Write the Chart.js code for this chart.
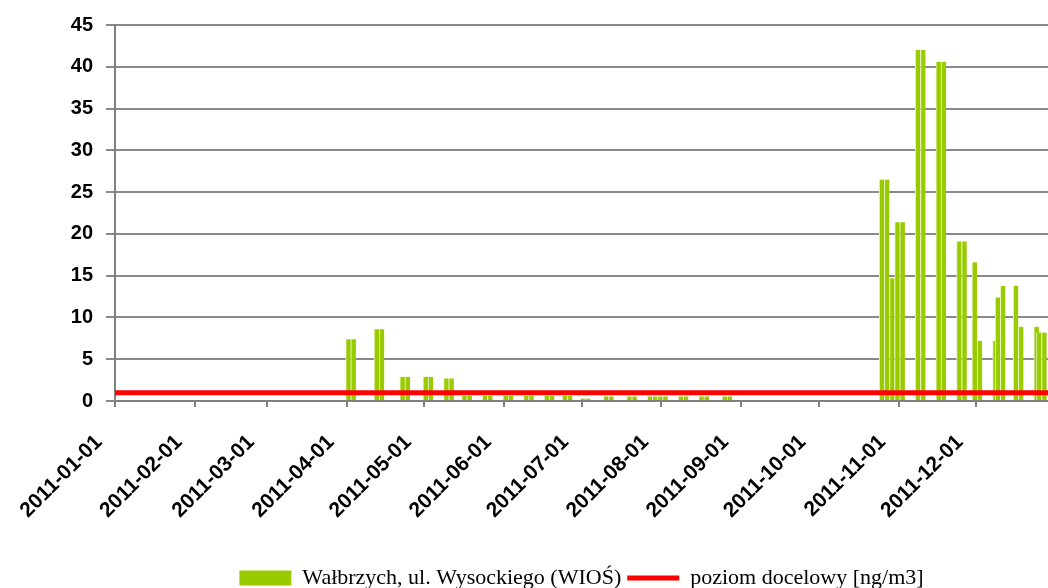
<!DOCTYPE html>
<html>
<head>
<meta charset="utf-8">
<script src="https://cdn.jsdelivr.net/npm/chart.js@4.4.1/dist/chart.umd.min.js"></script>
<style>
html, body { margin: 0; padding: 0; background: #fff; }
#wrap { width: 1048px; height: 588px; }
</style>
</head>
<body>
<div id="wrap"><canvas id="bapChart" width="1048" height="588"></canvas></div>
<script>
// Measurement days and values [ng/m3]
const sampleDates = [
    '2011-04-01', '2011-04-03', '2011-04-12', '2011-04-14', '2011-04-22', '2011-04-24',
    '2011-05-01', '2011-05-03', '2011-05-09', '2011-05-11', '2011-05-16', '2011-05-18',
    '2011-05-24', '2011-05-26', '2011-06-01', '2011-06-03', '2011-06-09', '2011-06-11',
    '2011-06-17', '2011-06-19', '2011-06-24', '2011-06-26', '2011-07-01', '2011-07-03',
    '2011-07-10', '2011-07-12', '2011-07-19', '2011-07-21', '2011-07-27', '2011-07-29',
    '2011-07-31', '2011-08-02', '2011-08-08', '2011-08-10', '2011-08-16', '2011-08-18',
    '2011-08-25', '2011-08-27',
    '2011-10-25', '2011-10-27', '2011-10-29', '2011-10-31', '2011-11-02', '2011-11-08',
    '2011-11-10', '2011-11-16', '2011-11-18', '2011-11-24', '2011-11-26', '2011-11-30',
    '2011-12-02', '2011-12-08', '2011-12-09', '2011-12-11', '2011-12-16', '2011-12-18',
    '2011-12-24', '2011-12-25', '2011-12-27'
];
const sampleValues = [
    7.4, 7.4, 8.6, 8.6, 2.9, 2.9,
    2.9, 2.9, 2.7, 2.7, 0.6, 0.6,
    0.6, 0.6, 0.6, 0.6, 0.6, 0.6,
    0.6, 0.6, 0.6, 0.6, 0.3, 0.3,
    0.55, 0.55, 0.55, 0.55, 0.55, 0.55,
    0.55, 0.55, 0.55, 0.55, 0.55, 0.55,
    0.55, 0.55,
    26.5, 26.5, 14.7, 21.4, 21.4, 42.0,
    42.0, 40.6, 40.6, 19.1, 19.1, 16.6,
    7.2, 7.2, 12.4, 13.8, 13.8, 8.9,
    8.9, 8.2, 8.2
];
const targetLevel = 1;
const monthTicks = [
    '2011-01-01', '2011-02-01', '2011-03-01', '2011-04-01', '2011-05-01', '2011-06-01',
    '2011-07-01', '2011-08-01', '2011-09-01', '2011-10-01', '2011-11-01', '2011-12-01'
];
const yearStart = '2011-01-01';
const lastDay = 362;   // axis ends just before the end of December

function dayOfYear(s) {
    return Math.round((Date.parse(s) - Date.parse(yearStart)) / 86400000);
}

const tickDays = monthTicks.map(dayOfYear);
const barPoints = sampleDates.map((d, i) => ({ x: dayOfYear(d) + 0.5, y: sampleValues[i] }));

const ctx = document.getElementById('bapChart').getContext('2d');
const bapChart = new Chart(ctx, {
    type: 'bar',
    data: {
        datasets: [{
            label: 'Wałbrzych, ul. Wysockiego (WIOŚ)',
            data: barPoints,
            backgroundColor: '#99cc00',
            borderColor: '#e2f0b4',
            borderWidth: { top: 0, right: 0, bottom: 0, left: 1 },
            borderSkipped: false,
            barThickness: 5,
            order: 1
        }, {
            type: 'line',
            label: 'poziom docelowy [ng/m3]',
            data: [{ x: 0, y: targetLevel }, { x: lastDay, y: targetLevel }],
            borderColor: '#ff0000',
            backgroundColor: '#ff0000',
            borderWidth: 5,
            pointRadius: 0,
            order: 0
        }]
    },
    options: {
        responsive: false,
        animation: false,
        devicePixelRatio: 1,
        layout: { padding: { top: 13, right: 0, bottom: -11, left: 0 } },
        scales: {
            x: {
                type: 'linear',
                min: 0,
                max: lastDay,
                offset: false,
                afterBuildTicks: axis => {
                    axis.ticks = tickDays.map(v => ({ value: v }));
                },
                afterFit: axis => { axis.height = 160; },
                grid: { offset: false, drawOnChartArea: false, drawTicks: true, tickLength: 6, color: '#808080', lineWidth: 2 },
                border: { color: '#808080', width: 2 },
                ticks: {
                    autoSkip: false,
                    minRotation: 45,
                    maxRotation: 45,
                    labelOffset: -16,
                    padding: 23,
                    color: '#000',
                    font: { family: '"Liberation Sans", Arial, sans-serif', size: 21, weight: 'bold' },
                    callback: (value, index) => monthTicks[index]
                }
            },
            y: {
                min: 0,
                max: 45,
                afterFit: axis => { axis.width = 115; },
                grid: { color: '#8a8a8a', lineWidth: 2, tickLength: 9 },
                border: { color: '#808080', width: 2 },
                ticks: {
                    stepSize: 5,
                    padding: 13,
                    color: '#000',
                    font: { family: '"Liberation Sans", Arial, sans-serif', size: 20, weight: 'bold' }
                }
            }
        },
        plugins: {
            tooltip: { enabled: false },
            legend: {
                position: 'bottom',
                fullSize: false,
                labels: {
                    usePointStyle: true,
                    pointStyleWidth: 52,
                    boxHeight: 15,
                    padding: 6,
                    color: '#000',
                    font: { family: '"Liberation Serif", "Times New Roman", serif', size: 22 },
                    generateLabels: chart => chart.data.datasets.map((ds, i) => ({
                        text: ds.label,
                        fillStyle: i === 0 ? ds.backgroundColor : 'rgba(0,0,0,0)',
                        strokeStyle: ds.borderColor,
                        lineWidth: i === 0 ? 0 : ds.borderWidth,
                        pointStyle: i === 0 ? 'rect' : 'line',
                        hidden: false,
                        datasetIndex: i,
                        fontColor: '#000'
                    }))
                }
            }
        }
    }
});
</script>
</body>
</html>
